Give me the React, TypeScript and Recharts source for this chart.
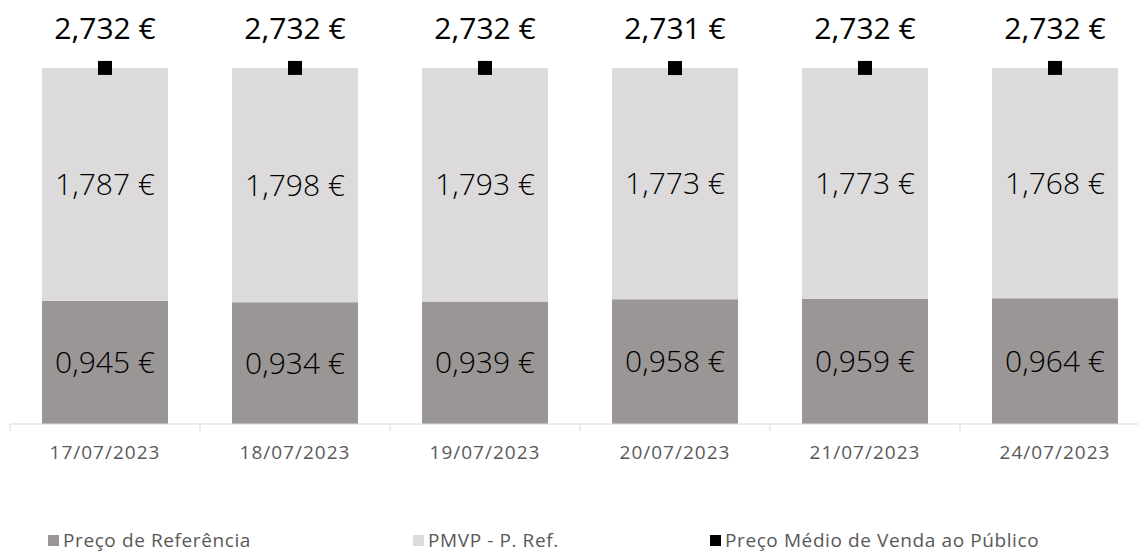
import React from "react";
import {
  ComposedChart,
  Bar,
  Line,
  XAxis,
  YAxis,
  Legend,
  LabelList,
} from "recharts";

const dates = [
  "17/07/2023",
  "18/07/2023",
  "19/07/2023",
  "20/07/2023",
  "21/07/2023",
  "24/07/2023",
];
const precoReferencia = [0.945, 0.934, 0.939, 0.958, 0.959, 0.964];
const pmvpMinusRef = [1.787, 1.798, 1.793, 1.773, 1.773, 1.768];
const precoMedio = [2.732, 2.732, 2.732, 2.731, 2.732, 2.732];

const DARK = "#9a9695";
const LIGHT = "#dcdadb";
const FONT = "'Open Sans', 'Noto Sans', sans-serif";

// note: don't call a key "ref", LabelList spreads the entry as props
const data = dates.map((d, i) => ({
  date: d,
  base: precoReferencia[i],
  diff: pmvpMinusRef[i],
  total: precoMedio[i],
}));

const euro = (v: any) => `${Number(v).toFixed(3).replace(".", ",")} €`;

const DateTick = (props: any) => {
  const { x, y, payload } = props;
  const half = payload && payload.offset ? payload.offset : 95;
  return (
    <g>
      <line x1={x - half} x2={x - half} y1={y} y2={y + 7} stroke="#d9d9d9" />
      <text
        x={x}
        y={y + 35}
        textAnchor="middle"
        fontSize={19}
        letterSpacing={1}
        fill="#595959"
        fontFamily={FONT}
      >
        {payload.value}
      </text>
    </g>
  );
};

const SquareDot = (props: any) => {
  const { cx, cy } = props;
  if (cx == null || cy == null) return null;
  return <rect x={cx - 7} y={cy - 7} width={14} height={14} fill="#000" />;
};

const legendItems = [
  { label: "Preço de Referência", color: DARK, w: 365 },
  { label: "PMVP - P. Ref.", color: LIGHT, w: 297 },
  { label: "Preço Médio de Venda ao Público", color: "#000", w: 360 },
];

const LegendContent = () => (
  <div
    style={{
      display: "flex",
      height: 18,
      lineHeight: "18px",
      alignItems: "center",
      fontFamily: FONT,
      fontSize: 19,
      letterSpacing: 0.6,
      color: "#595959",
    }}
  >
    {legendItems.map((it) => (
      <div
        key={it.label}
        style={{ display: "flex", alignItems: "center", width: it.w, whiteSpace: "nowrap" }}
      >
        <span
          style={{
            display: "inline-block",
            width: 11,
            height: 11,
            background: it.color,
            marginRight: 4,
          }}
        />
        <span>{it.label}</span>
      </div>
    ))}
  </div>
);

export default function App() {
  return (
    <div style={{ width: 1138, height: 554, overflow: "hidden", position: "relative" }}>
      <style>{`body{margin:0}`}</style>
      <ComposedChart
        width={1150}
        height={554}
        data={data}
        margin={{ top: 33, right: 0, left: 10, bottom: 72 }}
      >
        <XAxis
          dataKey="date"
          axisLine={{ stroke: "#d9d9d9" }}
          tickLine={false}
          tickSize={0}
          tickMargin={0}
          height={40}
          interval={0}
          tick={<DateTick />}
        />
        <YAxis hide domain={[0, 3]} />
        <Legend
          verticalAlign="bottom"
          content={<LegendContent />}
          wrapperStyle={{ top: 531, left: 48, bottom: "auto", width: "auto" }}
        />
        <Bar
          dataKey="base"
          name="Preço de Referência"
          stackId="a"
          fill={DARK}
          barSize={126}
          isAnimationActive={false}
        >
          <LabelList
            dataKey="base"
            position="center"
            formatter={euro}
            fontSize={30}
            fill="#000"
            fontFamily={FONT}
            fontWeight={300}
          />
        </Bar>
        <Bar
          dataKey="diff"
          name="PMVP - P. Ref."
          stackId="a"
          fill={LIGHT}
          barSize={126}
          isAnimationActive={false}
        >
          <LabelList
            dataKey="diff"
            position="center"
            formatter={euro}
            fontSize={30}
            fill="#000"
            fontFamily={FONT}
            fontWeight={300}
          />
        </Bar>
        <Line
          dataKey="total"
          name="Preço Médio de Venda ao Público"
          stroke="none"
          dot={<SquareDot />}
          activeDot={false}
          isAnimationActive={false}
        >
          <LabelList
            dataKey="total"
            position="top"
            offset={29}
            formatter={euro}
            fontSize={30}
            fill="#000"
            fontFamily={FONT}
            fontWeight={400}
          />
        </Line>
      </ComposedChart>
    </div>
  );
}
